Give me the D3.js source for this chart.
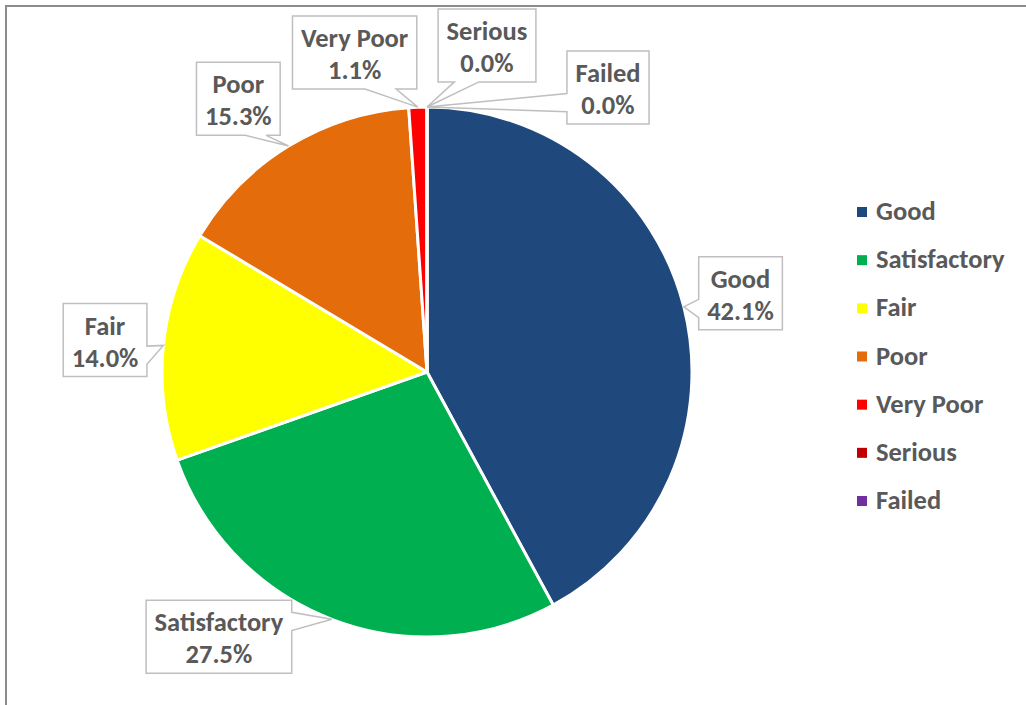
<!DOCTYPE html>
<html>
<head>
<meta charset="utf-8">
<script src="https://cdn.jsdelivr.net/npm/d3@7"></script>
<style>
  html, body { margin: 0; padding: 0; background: #fff; }
  svg { display: block; }
  text { font-family: Carlito, Calibri, Lato, sans-serif; font-weight: bold; fill: #595959; }
</style>
</head>
<body>
<svg id="chart" width="1026" height="705"></svg>
<script>
// Condition ratings and their share of the total (percent)
const categories = ["Good", "Satisfactory", "Fair", "Poor", "Very Poor", "Serious", "Failed"];
const shares = [42.1, 27.5, 14.0, 15.3, 1.1, 0.0, 0.0];
const sliceColors = ["#1F497D", "#00B050", "#FFFF00", "#E46C0A", "#FF0000", "#C00000", "#7030A0"];

// Callout placement: shift (px) from the default radial label spot
const labelNudge = [[-5, 2], [-90, -42], [5, 1], [-17, 7], [-61, 9], [60, 2], [181, 44]];

const W = 1026, H = 705;
const cx = 427, cy = 372, radius = 265;
const labelRadius = radius * 1.24;
const fontSize = 26.5;

const svg = d3.select("#chart");

// chart area frame
svg.append("rect")
  .attr("x", 6).attr("y", 6)
  .attr("width", W + 20).attr("height", H + 20)
  .attr("fill", "none").attr("stroke", "#8C8C8C").attr("stroke-width", 2);

const rows = categories.map((c, i) => ({ name: c, value: shares[i], color: sliceColors[i], nudge: labelNudge[i] }));

const pie = d3.pie().sort(null).value(d => d.value);
const arcs = pie(rows);
const arc = d3.arc().innerRadius(0).outerRadius(radius);

const g = svg.append("g").attr("transform", `translate(${cx},${cy})`);

g.selectAll("path.slice")
  .data(arcs)
  .join("path")
  .attr("class", "slice")
  .attr("d", arc)
  .attr("fill", d => d.data.color)
  .attr("stroke", "#fff")
  .attr("stroke-width", 3)
  .attr("stroke-linejoin", "round");

// wedge-rectangle callout outline (box l,t,w,h with pointer to tx,ty)
function calloutPath(l, t, w, h, tx, ty) {
  const r = l + w, b = t + h, hc = l + w / 2, vc = t + h / 2;
  const dxPos = tx - hc, dyPos = ty - vc;
  const horiz = Math.abs(dxPos * h) - Math.abs(dyPos * w) > 0;
  const x1 = l + w * (dxPos > 0 ? 7 : 2) / 12, x2 = l + w * (dxPos > 0 ? 10 : 5) / 12;
  const y1 = t + h * (dyPos > 0 ? 7 : 2) / 12, y2 = t + h * (dyPos > 0 ? 10 : 5) / 12;
  const p = d3.path();
  p.moveTo(l, t);
  if (!horiz && dyPos < 0) { p.lineTo(x1, t); p.lineTo(tx, ty); p.lineTo(x2, t); }
  p.lineTo(r, t);
  if (horiz && dxPos > 0) { p.lineTo(r, y1); p.lineTo(tx, ty); p.lineTo(r, y2); }
  p.lineTo(r, b);
  if (!horiz && dyPos > 0) { p.lineTo(x2, b); p.lineTo(tx, ty); p.lineTo(x1, b); }
  p.lineTo(l, b);
  if (horiz && dxPos < 0) { p.lineTo(l, y2); p.lineTo(tx, ty); p.lineTo(l, y1); }
  p.closePath();
  return p.toString();
}

const fmt = d3.format(".1%");
const labels = svg.append("g");

arcs.forEach(a => {
  const mid = (a.startAngle + a.endAngle) / 2;
  const tipX = cx + radius * Math.sin(mid);
  const tipY = cy - radius * Math.cos(mid);
  const bx = cx + labelRadius * Math.sin(mid) + a.data.nudge[0];
  const by = cy - labelRadius * Math.cos(mid) + a.data.nudge[1];

  const grp = labels.append("g");
  const box = grp.append("path");
  const t1 = grp.append("text").attr("text-anchor", "middle").attr("font-size", fontSize).text(a.data.name);
  const t2 = grp.append("text").attr("text-anchor", "middle").attr("font-size", fontSize).text(fmt(a.data.value / 100));

  const tw = Math.max(t1.node().getComputedTextLength(), t2.node().getComputedTextLength());
  const bw = tw + 17, bh = 73;
  const l = bx - bw / 2, t = by - bh / 2;
  t1.attr("x", bx).attr("y", t + 31);
  t2.attr("x", bx).attr("y", t + 63);
  box.attr("d", calloutPath(l, t, bw, bh, tipX, tipY))
    .attr("fill", "#fff").attr("stroke", "#BFBFBF").attr("stroke-width", 1.5)
    .attr("stroke-linejoin", "miter");
});

// legend
const legendY = d3.scalePoint().domain(categories).range([212, 501]);
const legend = svg.append("g");
const items = legend.selectAll("g").data(rows).join("g")
  .attr("transform", d => `translate(857,${legendY(d.name)})`);
items.append("rect").attr("x", 0).attr("y", -5).attr("width", 10).attr("height", 10)
  .attr("fill", d => d.color);
items.append("text").attr("x", 19).attr("y", 8).attr("font-size", fontSize).text(d => d.name);
</script>
</body>
</html>
